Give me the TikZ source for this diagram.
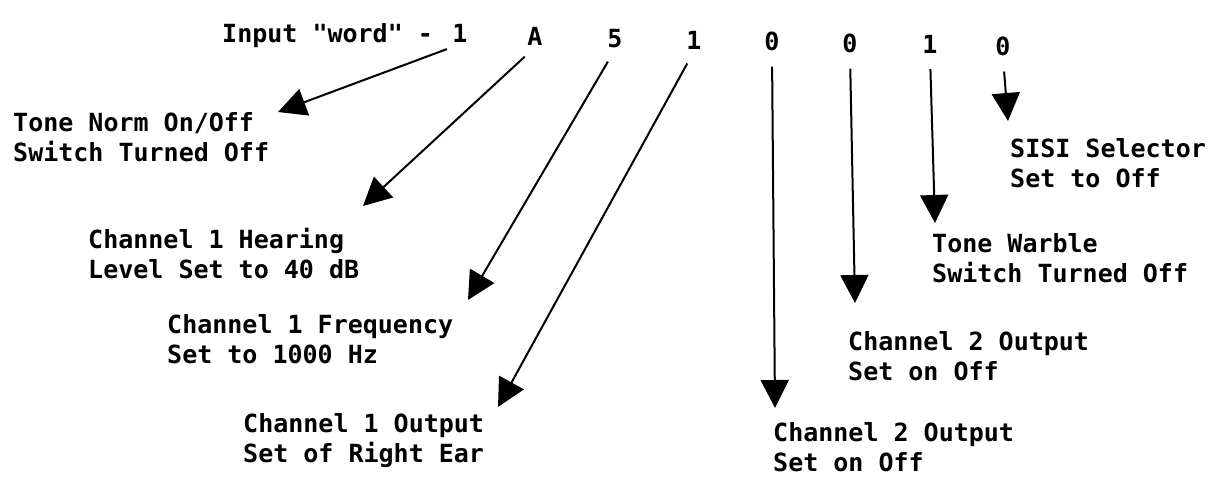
\documentclass[tikz,border=0pt]{standalone}
\usepackage{fontspec}
\newfontfamily\tw{DejaVu Sans Mono}
\usetikzlibrary{arrows.meta}
\begin{document}
\begin{tikzpicture}[x=1pt,y=-1pt,
  lbl/.style={anchor=base west, inner sep=0pt, align=left,
    font=\tw\bfseries\fontsize{25}{30}\selectfont},
  dig/.style={anchor=base, inner sep=2pt,
    font=\tw\bfseries\fontsize{25}{30}\selectfont},
  arr/.style={line width=2pt, -{Triangle[length=28pt,width=28pt]}, shorten <=14pt}]
\useasboundingbox (0,0) rectangle (1217,479);
% input word
\node[lbl] (title) at (222,42) {Input "word" -};
\node[dig] (d1) at (460,42) {1};
\node[dig] (dA) at (535,45) {A};
\node[dig] (d5) at (615,47) {5};
\node[dig] (d1b) at (694,49) {1};
\node[dig] (d0a) at (772,50) {0};
\node[dig] (d0b) at (850,52) {0};
\node[dig] (d1c) at (930,53) {1};
\node[dig] (d0c) at (1003,55) {0};
% labels (position = baseline of the last line)
\node[lbl] (tone) at (13,161) {Tone Norm On/Off\\Switch Turned Off};
\node[lbl] (hear) at (88,278) {Channel 1 Hearing\\Level Set to 40 dB};
\node[lbl] (freq) at (167,363) {Channel 1 Frequency\\Set to 1000 Hz};
\node[lbl] (out1) at (243,462) {Channel 1 Output\\Set of Right Ear};
\node[lbl] (out2b) at (773,471) {Channel 2 Output\\Set on Off};
\node[lbl] (out2a) at (848,380) {Channel 2 Output\\Set on Off};
\node[lbl] (warble) at (932,282) {Tone Warble\\Switch Turned Off};
\node[lbl] (sisi) at (1010,187) {SISI Selector\\Set to Off};
% arrow tips
\coordinate (t1) at (278,112);
\coordinate (tA) at (363,206);
\coordinate (t5) at (468,300);
\coordinate (t1b) at (498,407);
\coordinate (t0a) at (775,408);
\coordinate (t0b) at (855,303);
\coordinate (t1c) at (935,223);
\coordinate (t0c) at (1008,121);
\draw[arr] (d1.south) -- (t1);
\draw[arr] (dA.south) -- (tA);
\draw[arr] (d5.south) -- (t5);
\draw[arr] (d1b.south) -- (t1b);
\draw[arr] (d0a.south) -- (t0a);
\draw[arr] (d0b.south) -- (t0b);
\draw[arr] (d1c.south) -- (t1c);
\draw[arr] (d0c.south) -- (t0c);
\end{tikzpicture}
\end{document}
